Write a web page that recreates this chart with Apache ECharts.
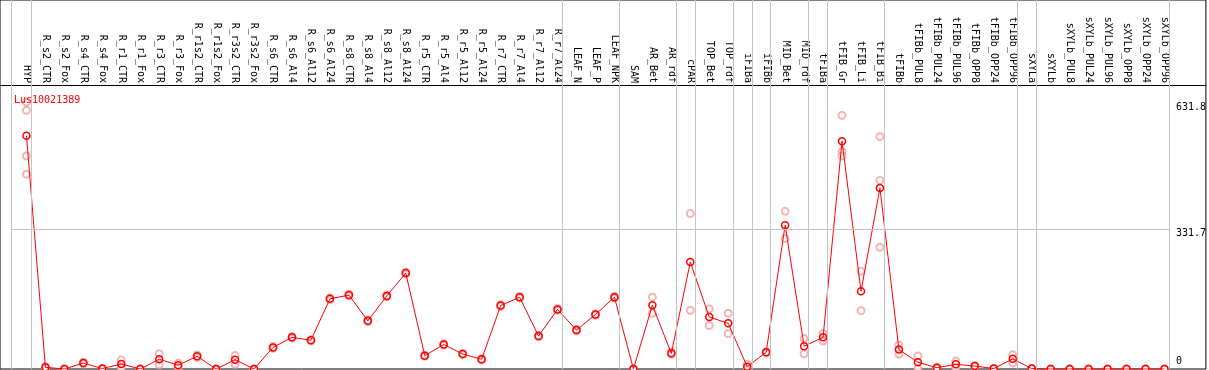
<!DOCTYPE html>
<html>
<head>
<meta charset="utf-8">
<script src="https://cdn.jsdelivr.net/npm/echarts@6/dist/echarts.min.js"></script>
<style>
html,body{margin:0;padding:0;background:#fff;}
#chart{width:1209px;height:370px;}
</style>
</head>
<body>
<div id="chart"></div>
<script>
const geneName = 'Lus10021389';
const categories = ['HYP','R_s2_CTR','R_s2_Fox','R_s4_CTR','R_s4_Fox','R_r1_CTR','R_r1_Fox','R_r3_CTR','R_r3_Fox','R_r1s2_CTR','R_r1s2_Fox','R_r3s2_CTR','R_r3s2_Fox','R_s6_CTR','R_s6_Al4','R_s6_Al12','R_s6_Al24','R_s8_CTR','R_s8_Al4','R_s8_Al12','R_s8_Al24','R_r5_CTR','R_r5_Al4','R_r5_Al12','R_r5_Al24','R_r7_CTR','R_r7_Al4','R_r7_Al12','R_r7_Al24','LEAF_N','LEAF_P','LEAF_NPK','SAM','AR_Bet','AR_rdf','cPAR','TOP_Bet','TOP_rdf','iFIBa','iFIBb','MID_Bet','MID_rdf','tFIBa','tFIB_Gr','tFIB_Li','tFIB_Bi','tFIBb','tFIBb_PUL8','tFIBb_PUL24','tFIBb_PUL96','tFIBb_OPP8','tFIBb_OPP24','tFIBb_OPP96','sXYLa','sXYLb','sXYLb_PUL8','sXYLb_PUL24','sXYLb_PUL96','sXYLb_OPP8','sXYLb_OPP24','sXYLb_OPP96'];
const meanValues = [552,4,0,14,1,12,0,23,9,30,0,22,0,51,75,68,166,175,114,173,227,31.5,58,35.5,23,150,170,78,141,92,129,170,0,151,37,253,123,108,5.5,39.5,340,54,75,539,184,428,46,16,3,11,7,1,24,1,0,0,0,0,0,0,0];
const replicateValues = [[631.8,612,504,461],[6,2],[0,0],[16,12],[1,0],[21,3],[0,0],[36,10],[14,4],[33,27],[0,0],[32,11],[0,0],[53,49],[77,73],[70,66],[168,164],[177,173],[116,112],[175,171],[229,225],[33,30],[60,56],[37,34],[25,21],[152,148],[172,168],[80,76],[143,139],[94,90],[131,127],[172,168],[0,0],[170,132],[40,35],[368,139],[142,103],[132,84],[11,0],[41,38],[373,309],[72,36],[84,66],[600,514,504],[231,138],[550,446,288],[57,35],[31,2],[4,2],[19,3],[8,6],[1,1],[34,14],[1,1],[0,0],[0,0],[0,0],[0,0],[0,0],[0,0],[0,0]];
const groupLastIndex = [0,28,31,34,35,37,38,39,41,42,45,52,53,60];
const yTickLabels = [331.7, 631.8];
const yZeroLabel = [0];
const gridValue = 331.7;

const FONT = 'DejaVu Sans Mono';
const SEP_OFF = 0.237;
const X_MIN = -1.3947, X_MAX = 62.184, X_LEFT = -0.816;

const chart = echarts.init(document.getElementById('chart'), null, {renderer:'canvas'});
const repData = [];
replicateValues.forEach((arr,i)=>arr.forEach(v=>repData.push([i,v])));
const sepLines = [{xAxis: X_LEFT}].concat(groupLastIndex.map(i=>({xAxis: i + SEP_OFF})));
sepLines.push([{coord:[X_LEFT, gridValue]},{coord:[groupLastIndex[groupLastIndex.length-1]+SEP_OFF, gridValue]}]);

chart.setOption({
  animation:false,
  backgroundColor:'#fff',
  title:{text:geneName,left:9,top:90,textStyle:{color:'#ff0000',fontFamily:FONT,fontSize:10,fontWeight:'normal'}},
  grid:{left:0,right:1,top:0,bottom:1,show:true,borderColor:'#000',borderWidth:1,backgroundColor:'#fff'},
  xAxis:{type:'value',min:X_MIN,max:X_MAX,position:'top',offset:-85,
    axisLine:{show:true,onZero:false,lineStyle:{color:'#000',width:1}},
    axisTick:{show:false},splitLine:{show:false},
    axisLabel:{customValues:categories.map((c,i)=>i),formatter:v=>categories[Math.round(v)]||'',rotate:90,margin:2,
      fontFamily:FONT,fontSize:10,color:'#000',showMinLabel:true,showMaxLabel:true,hideOverlap:false}},
  yAxis:[
    {type:'value',min:0,max:873,position:'right',offset:-38,axisLine:{show:false},axisTick:{show:false},splitLine:{show:false},
     axisLabel:{customValues:yTickLabels,formatter:v=>String(v),verticalAlign:'top',margin:8,fontFamily:FONT,fontSize:10,color:'#000',showMinLabel:true,showMaxLabel:true}},
    {type:'value',min:0,max:873,position:'right',offset:-38,axisLine:{show:false},axisTick:{show:false},splitLine:{show:false},
     axisLabel:{customValues:yZeroLabel,formatter:v=>String(v),verticalAlign:'bottom',padding:[0,0,3,0],margin:8,fontFamily:FONT,fontSize:10,color:'#000',showMinLabel:true}}
  ],
  series:[
    {type:'scatter',data:repData,symbol:'emptyCircle',symbolSize:7,silent:true,z:2,
     itemStyle:{color:'#f2a0a0',borderColor:'#f2a0a0',borderWidth:1.2},
     markLine:{silent:true,symbol:'none',label:{show:false},animation:false,
       lineStyle:{color:'#c4c4c4',type:'solid',width:1},data:sepLines}},
    {type:'line',data:meanValues.map((v,i)=>[i,v]),symbol:'circle',symbolSize:7,z:3,
     lineStyle:{color:'#ff0000',width:1},
     itemStyle:{color:'rgba(255,255,255,0)',borderColor:'#ff0000',borderWidth:1.5}}
  ]
});
</script>
</body>
</html>
